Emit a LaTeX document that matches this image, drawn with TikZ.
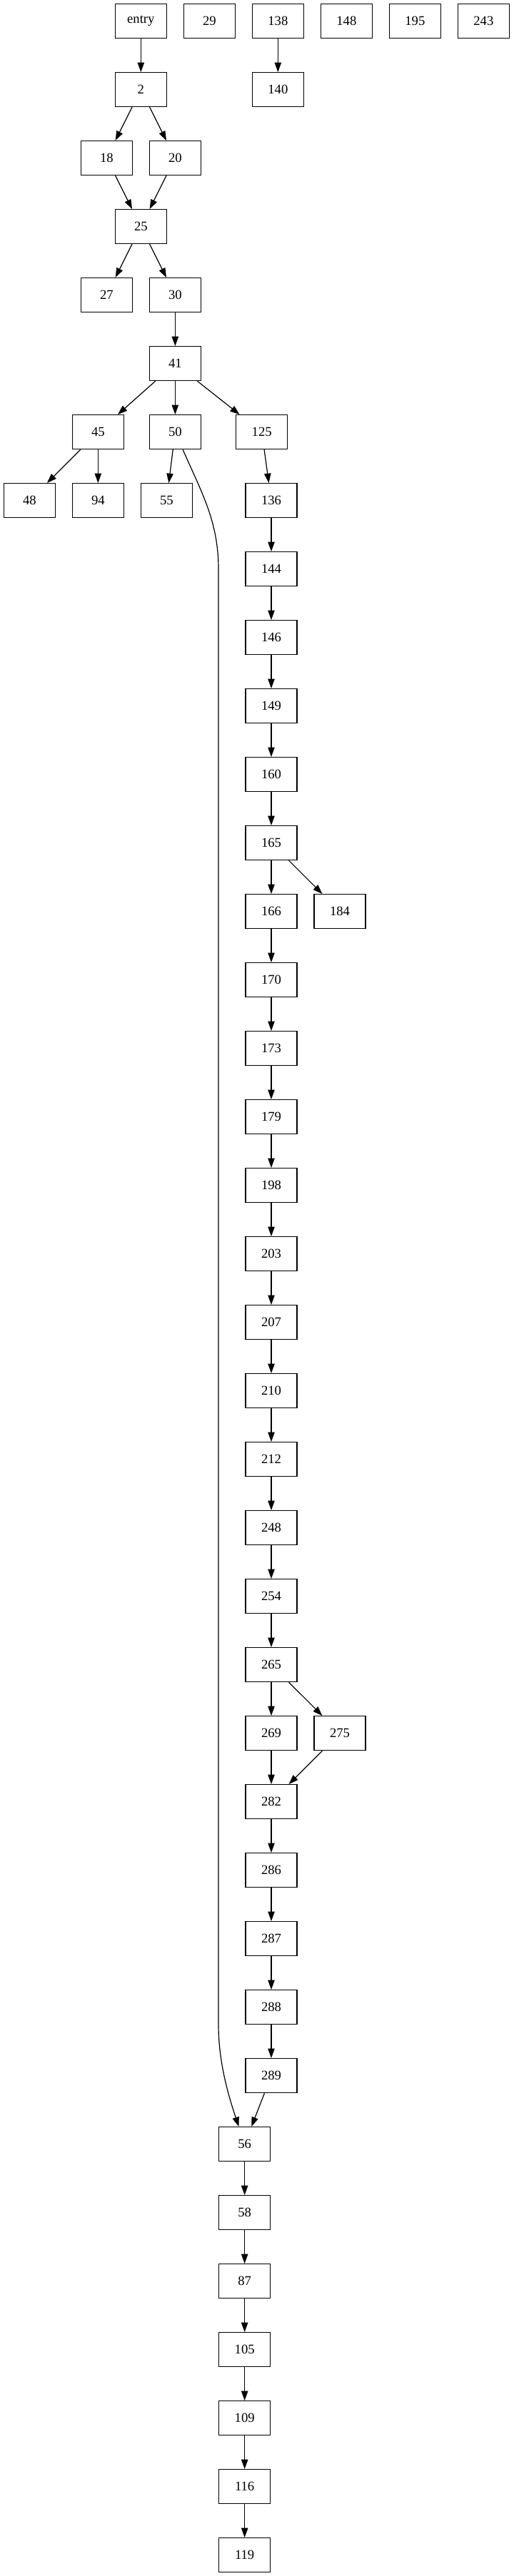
\documentclass[tikz,border=0pt]{standalone}
\usepackage{fontspec}
\setmainfont{Liberation Serif}
\usepackage{tikz}
\usetikzlibrary{arrows.meta}
\newcommand{\blk}[3] % label, x in pt, rank (0 = top row)
{
	\node[blk] (b#1) at (#2, {2686-72*#3}) {#1};
}

\begin{document}
\begin{tikzpicture}[x=1pt, y=1pt, line width=0.9pt, >={Triangle[length=10pt, width=7pt]},
	blk/.style={draw, minimum width=54pt, minimum height=36pt, inner sep=0pt, font=\fontsize{14}{16}\selectfont}]
	% page: 539.25pt x 2708.25pt, rows 72pt apart
	\useasboundingbox (0, 0) rectangle (539.25, 2708.25);
	
	% top row
	\blk{entry}{148}{0};
	\blk{29}{220}{0};
	\blk{138}{292}{0};
	\blk{148}{364}{0};
	\blk{195}{436}{0};
	\blk{243}{508}{0};
	\blk{2}{148}{1};
	\blk{140}{292}{1};
	\blk{18}{112}{2};
	\blk{20}{184}{2};
	\blk{25}{148}{3};
	\blk{27}{112}{4};
	\blk{30}{184}{4};
	\blk{41}{184}{5};
	\blk{45}{103}{6};
	\blk{50}{184}{6};
	\blk{125}{275}{6};
	\blk{48}{31}{7};
	\blk{94}{103}{7};
	\blk{55}{175}{7};
	% long right column
	\blk{136}{285}{7};
	\blk{144}{285}{8};
	\blk{146}{285}{9};
	\blk{149}{285}{10};
	\blk{160}{285}{11};
	\blk{165}{285}{12};
	\blk{166}{285}{13};
	\blk{184}{357}{13};
	\blk{170}{285}{14};
	\blk{173}{285}{15};
	\blk{179}{285}{16};
	\blk{198}{285}{17};
	\blk{203}{285}{18};
	\blk{207}{285}{19};
	\blk{210}{285}{20};
	\blk{212}{285}{21};
	\blk{248}{285}{22};
	\blk{254}{285}{23};
	\blk{265}{285}{24};
	\blk{269}{285}{25};
	\blk{275}{357}{25};
	\blk{282}{285}{26};
	\blk{286}{285}{27};
	\blk{287}{285}{28};
	\blk{288}{285}{29};
	\blk{289}{285}{30};
	% bottom column
	\blk{56}{257}{31};
	\blk{58}{257}{32};
	\blk{87}{257}{33};
	\blk{105}{257}{34};
	\blk{109}{257}{35};
	\blk{116}{257}{36};
	\blk{119}{257}{37};
	
	% edges
	\draw[->] (bentry) -- (b2);
	\draw[->] (b138) -- (b140);
	\draw[->] (b2) -- (b18);
	\draw[->] (b2) -- (b20);
	\draw[->] (b18) -- (b25);
	\draw[->] (b20) -- (b25);
	\draw[->] (b25) -- (b27);
	\draw[->] (b25) -- (b30);
	\draw[->] (b30) -- (b41);
	\draw[->] (b41) -- (b45);
	\draw[->] (b41) -- (b50);
	\draw[->] (b41) -- (b125);
	\draw[->] (b45) -- (b48);
	\draw[->] (b45) -- (b94);
	\draw[->] (b50) -- (b55);
	\draw[->] (b125) -- (b136);
	\draw[->] (b136) -- (b144);
	\draw[->] (b144) -- (b146);
	\draw[->] (b146) -- (b149);
	\draw[->] (b149) -- (b160);
	\draw[->] (b160) -- (b165);
	\draw[->] (b165) -- (b166);
	\draw[->] (b165) -- (b184);
	\draw[->] (b166) -- (b170);
	\draw[->] (b170) -- (b173);
	\draw[->] (b173) -- (b179);
	\draw[->] (b179) -- (b198);
	\draw[->] (b198) -- (b203);
	\draw[->] (b203) -- (b207);
	\draw[->] (b207) -- (b210);
	\draw[->] (b210) -- (b212);
	\draw[->] (b212) -- (b248);
	\draw[->] (b248) -- (b254);
	\draw[->] (b254) -- (b265);
	\draw[->] (b265) -- (b269);
	\draw[->] (b265) -- (b275);
	\draw[->] (b269) -- (b282);
	\draw[->] (b275) -- (b282);
	\draw[->] (b282) -- (b286);
	\draw[->] (b286) -- (b287);
	\draw[->] (b287) -- (b288);
	\draw[->] (b288) -- (b289);
	\draw[->] (b289) -- (b56);
	\draw[->] (b56) -- (b58);
	\draw[->] (b58) -- (b87);
	\draw[->] (b87) -- (b105);
	\draw[->] (b105) -- (b109);
	\draw[->] (b109) -- (b116);
	\draw[->] (b116) -- (b119);
	
	% long edge 50 -> 56
	\coordinate (c1) at (229.5, 2110);
	\coordinate (c2) at (229.5, 580);
	\draw[->] (b50) .. controls (212, 2190) and (229.5, 2160) .. (c1) -- (c2) .. controls (229.5, 540) and (240, 505) .. (b56);
	
\end{tikzpicture}
\end{document}
